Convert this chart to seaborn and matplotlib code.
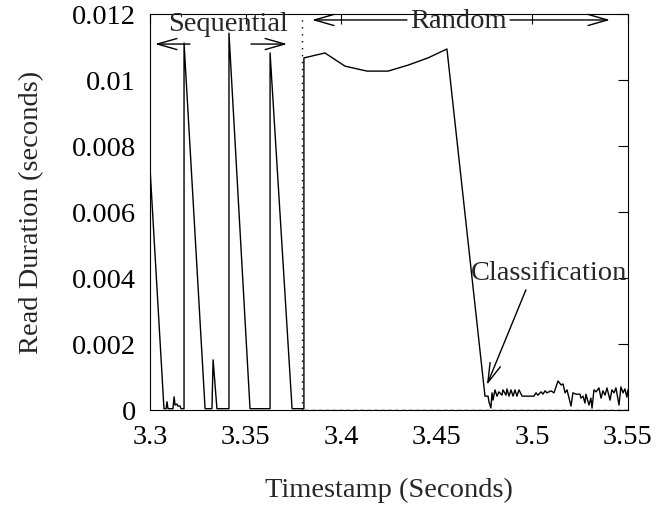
import numpy as np
import pandas as pd
import seaborn as sns
from matplotlib import pyplot as plt

# read duration trace, in drawing order (a rise has two points with the same timestamp)
timestamps = [
    3.3000, 3.3073, 3.3084, 3.3089, 3.3094, 3.3120, 3.3126, 3.3131, 3.3141, 3.3146,
    3.3157, 3.3162, 3.3178, 3.3178, 3.3288, 3.3324, 3.3330, 3.3350, 3.3413, 3.3413,
    3.3523, 3.3628, 3.3628, 3.3743, 3.3805, 3.3805,
    3.3915, 3.4020, 3.4135, 3.4245, 3.4349, 3.4454, 3.4553,
    3.4752, 3.4768, 3.4773, 3.4783, 3.4789, 3.4794, 3.4804, 3.4815, 3.4825, 3.4841,
    3.4846, 3.4862, 3.4867, 3.4878, 3.4888, 3.4899, 3.4909, 3.4919, 3.4930, 3.4946,
    3.4998, 3.5008, 3.5019, 3.5029, 3.5045, 3.5055, 3.5066, 3.5076, 3.5097, 3.5113,
    3.5134, 3.5150, 3.5160, 3.5171, 3.5181, 3.5202, 3.5212, 3.5228, 3.5249, 3.5254,
    3.5265, 3.5275, 3.5280, 3.5296, 3.5306, 3.5312, 3.5322, 3.5333, 3.5348, 3.5359,
    3.5369, 3.5380, 3.5390, 3.5406, 3.5416, 3.5427, 3.5437, 3.5453, 3.5463, 3.5474,
    3.5484, 3.5494, 3.5500,
]
durations = [
    0.00733, 0.00004, 0.00004, 0.00025, 0.00004, 0.00004, 0.00040, 0.00015, 0.00018, 0.00012,
    0.00012, 0.00004, 0.00004, 0.01112, 0.00004, 0.00004, 0.00152, 0.00004, 0.00004, 0.01142,
    0.00004, 0.00004, 0.01082, 0.00004, 0.00004, 0.01067,
    0.01082, 0.01042, 0.01027, 0.01027, 0.01045, 0.01067, 0.01094,
    0.00042, 0.00042, 0.00024, 0.00006, 0.00052, 0.00030, 0.00061, 0.00042, 0.00055, 0.00045,
    0.00061, 0.00045, 0.00064, 0.00042, 0.00061, 0.00042, 0.00061, 0.00042, 0.00061, 0.00042,
    0.00042, 0.00042, 0.00052, 0.00045, 0.00055, 0.00048, 0.00058, 0.00052, 0.00058, 0.00052,
    0.00088, 0.00076, 0.00079, 0.00052, 0.00061, 0.00012, 0.00052, 0.00048, 0.00048, 0.00036,
    0.00042, 0.00021, 0.00048, 0.00015, 0.00036, 0.00006, 0.00061, 0.00055, 0.00067, 0.00036,
    0.00058, 0.00045, 0.00067, 0.00030, 0.00061, 0.00052, 0.00067, 0.00015, 0.00070, 0.00052,
    0.00064, 0.00039, 0.00061,
]

# zero series over the random phase
zero_x = [3.3805, 3.5500]
zero_y = [0.0, 0.0]

boundary = 3.3793  # switch from sequential to random

x_ticks = [3.3, 3.35, 3.4, 3.45, 3.5, 3.55]
x_tick_labels = ['3.3', '3.35', '3.4', '3.45', '3.5', '3.55']
y_ticks = [0, 0.002, 0.004, 0.006, 0.008, 0.01, 0.012]
y_tick_labels = ['0', '0.002', '0.004', '0.006', '0.008', '0.01', '0.012']

sns.set_theme(style='white')
plt.rcParams['font.family'] = ['Liberation Serif', 'DejaVu Serif']
FS = 20.5

df = pd.DataFrame({'Timestamp': timestamps, 'Duration': durations})

fig = plt.figure(figsize=(6.7, 5.08), dpi=100)
ax = fig.add_axes([0.2239, 0.1929, 0.7134, 0.7795])

sns.lineplot(data=df, x='Timestamp', y='Duration', estimator=None, sort=False,
             color='black', linewidth=1.0, ax=ax)
sns.lineplot(x=zero_x, y=zero_y, estimator=None, sort=False, color='black',
             linewidth=1.0, linestyle=(0, (3, 2)), ax=ax)
ax.axvline(boundary, color='black', linewidth=1.0, linestyle=(0, (1, 4)))

ax.set_xlim(3.3, 3.55)
ax.set_ylim(0, 0.012)
ax.set_xticks(x_ticks)
ax.set_xticklabels(x_tick_labels)
ax.set_yticks(y_ticks)
ax.set_yticklabels(y_tick_labels)
ax.tick_params(direction='in', length=7, width=0.8, top=True, right=True,
               colors='black', labelsize=FS)
ax.tick_params(axis='x', pad=11)
ax.tick_params(axis='y', pad=10)
for s in ax.spines.values():
    s.set_color('black')
    s.set_linewidth(0.8)

ax.set_xlabel('Timestamp (Seconds)', fontsize=FS, labelpad=20)
ax.set_ylabel('Read Duration (seconds)', fontsize=FS, labelpad=20)

arrow = dict(arrowstyle='->,head_length=0.7,head_width=0.2', color='black',
             linewidth=1.0, mutation_scale=20, shrinkA=0, shrinkB=0)

# sequential range
ax.annotate('', xy=(3.3026, 0.01109), xytext=(3.3209, 0.01109), arrowprops=arrow)
ax.annotate('', xy=(3.3717, 0.01109), xytext=(3.3528, 0.01109), arrowprops=arrow)
ax.text(3.3408, 0.01167, 'Sequential', ha='center', va='center', fontsize=FS)

# random range
ax.annotate('', xy=(3.3847, 0.01182), xytext=(3.4344, 0.01182), arrowprops=arrow)
ax.annotate('', xy=(3.5406, 0.01182), xytext=(3.4883, 0.01182), arrowprops=arrow)
ax.text(3.4611, 0.01176, 'Random', ha='center', va='center', fontsize=FS)

# classification point
ax.annotate('', xy=(3.4762, 0.00076), xytext=(3.4966, 0.00364), arrowprops=arrow)
ax.text(3.5085, 0.00415, 'Classification', ha='center', va='center', fontsize=FS)

fig.savefig('out.png', dpi=100)
